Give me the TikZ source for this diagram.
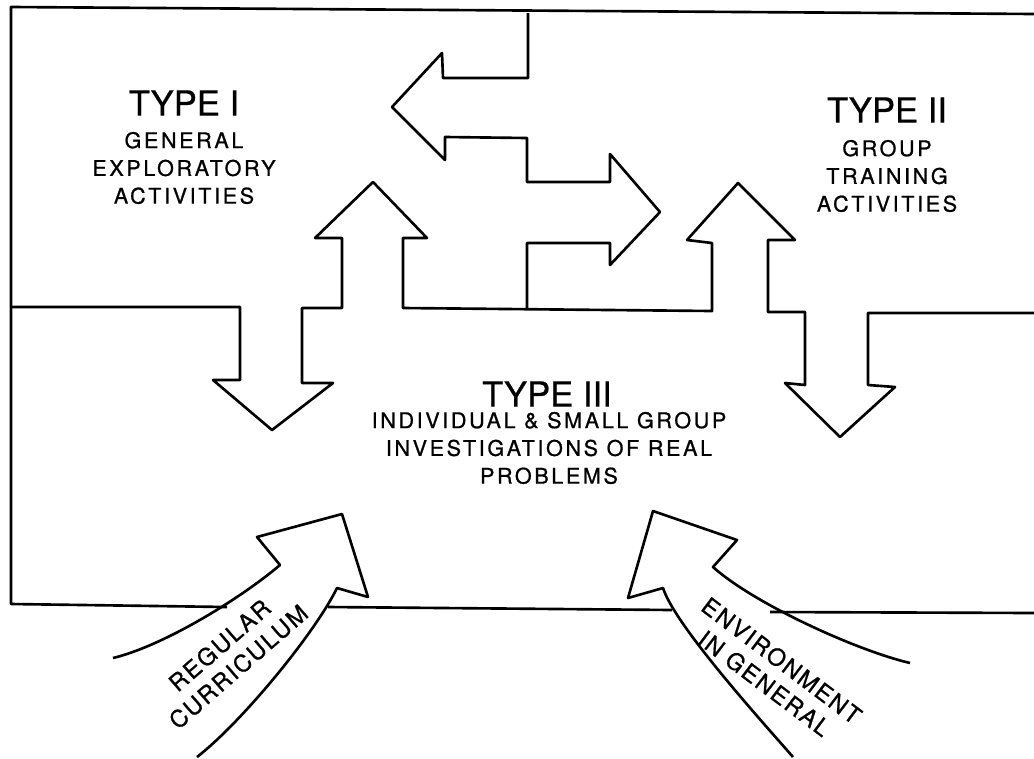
\documentclass[tikz,border=0pt]{standalone}
\usepackage{fontspec}
\setmainfont{TeX Gyre Heros}
\newfontfamily\headfont[FakeBold=0.6]{TeX Gyre Heros}
\newfontfamily\spacedfont[LetterSpace=12, FakeBold=0.8]{TeX Gyre Heros}
\newfontfamily\slantfont[LetterSpace=8, FakeBold=0.8]{TeX Gyre Heros}
\usepackage{tikz}
\tikzset{
  head/.style={inner sep=0pt, font={\headfont\fontsize{19.7pt}{22pt}\selectfont}},
  body/.style={inner sep=0pt, align=center, font={\spacedfont\fontsize{12.3pt}{15.8pt}\selectfont}},
  side/.style={inner sep=0pt, align=center, font={\slantfont\fontsize{13.4pt}{16.2pt}\selectfont}},
  edge/.style={line width=1.5pt, line join=round}}

\begin{document}
\begin{tikzpicture}[x=0.02cm, y=-0.02cm]
  \useasboundingbox (0,0) rectangle (1034,758);
  % frame
  \draw[edge] (1034,14) -- (11,7) -- (11,604) -- (227,607);
  \draw[edge] (328,607) -- (672,610);
  \draw[edge] (770,612) -- (1034,613);
  % type I / type III border with the left double arrow, then type II
  \draw[edge] (11,307) -- (240,307) -- (240,380) -- (213,380) -- (272,430) -- (333,383) -- (302,383)
    -- (302,308) -- (342,308) -- (342,238) -- (315,238) -- (373,182) -- (427,238) -- (403,238)
    -- (403,308) -- (712,311) -- (712,243) -- (687,240) -- (738,183) -- (795,240) -- (768,240)
    -- (768,312) -- (805,312) -- (805,385) -- (785,383) -- (840,437) -- (895,387) -- (868,385)
    -- (868,313) -- (1034,313);
  % type I / type II border
  \draw[edge] (528,13) -- (528,78) -- (443,78) -- (442,53) -- (392,107) -- (445,160) -- (445,137)
    -- (527,138) -- (527,182) -- (610,182) -- (610,154) -- (660,212) -- (610,265) -- (610,243)
    -- (527,243) -- (527,308);
  % curved arrows
  \draw[edge] (113,658) .. controls (163,646) and (240,599) .. (280,565) -- (257,537) -- (342,514)
    -- (368,597) -- (337,588) .. controls (315,633) and (242,722) .. (197,757);
  \draw[edge] (910,663) .. controls (855,650) and (753,603) .. (713,567) -- (737,540) -- (653,511)
    -- (628,598) -- (663,588) .. controls (675,625) and (758,717) .. (793,757);

  \node (t1) [head] at (184,103) {TYPE I};
  \node (t1b) [body] at (184,168) {GENERAL\\EXPLORATORY\\ACTIVITIES};
  \node (t2) [head] at (887,110) {TYPE II};
  \node (t2b) [body] at (887,176) {GROUP\\TRAINING\\ACTIVITIES};
  \node (t3) [head] at (547,394) {TYPE III};
  \node (t3b) [body] at (549,448) {INDIVIDUAL \& SMALL GROUP\\INVESTIGATIONS OF REAL\\PROBLEMS};
  \node (rc) [side, rotate=41] at (229,656) {REGULAR\\CURRICULUM};
  \node (eg) [side, rotate=-37] at (773,672) {ENVIRONMENT\\IN GENERAL};
\end{tikzpicture}
\end{document}
